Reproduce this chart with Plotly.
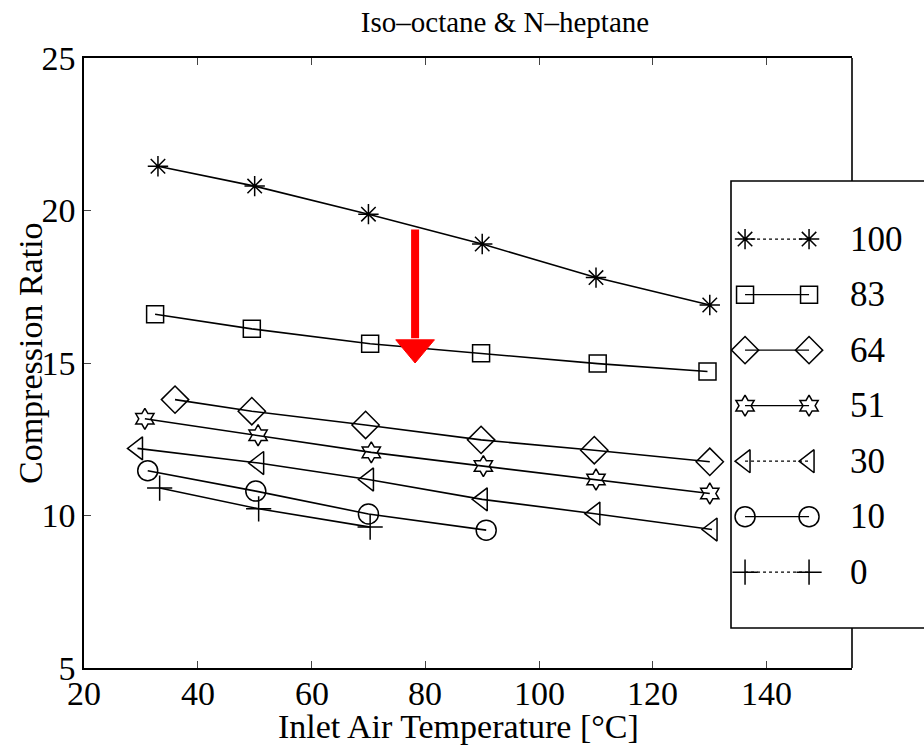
import plotly.graph_objects as go

# ---- data ----
series_names = ["100", "83", "64", "51", "30", "10", "0"]
x_100 = [33, 50, 70, 90, 110, 130]
y_100 = [21.45, 20.8, 19.88, 18.9, 17.8, 16.9]
x_83 = [32.5, 49.5, 70.3, 89.8, 110.3, 129.6]
y_83 = [16.6, 16.12, 15.63, 15.32, 14.98, 14.72]
x_64 = [36, 49.5, 69.5, 89.8, 109.7, 130]
y_64 = [13.8, 13.42, 12.97, 12.48, 12.14, 11.76]
x_51 = [30.7, 50.6, 70.5, 90.2, 110, 130]
y_51 = [13.17, 12.63, 12.07, 11.62, 11.18, 10.72]
x_30 = [29.4, 50.7, 70, 90, 109.8, 130.4]
y_30 = [12.2, 11.72, 11.18, 10.53, 10.06, 9.54]
x_10 = [31.2, 50.2, 70, 90.7]
y_10 = [11.47, 10.8, 10.05, 9.52]
x_0 = [33.3, 50.7, 70.3]
y_0 = [10.9, 10.22, 9.62]

xs = [x_100, x_83, x_64, x_51, x_30, x_10, x_0]
ys = [y_100, y_83, y_64, y_51, y_30, y_10, y_0]
symbols = ["asterisk-open", "square-open", "diamond-open", "hexagram-open",
           "triangle-left-open", "circle-open", "cross-thin-open"]
sizes = [17, 17, 21, 16, 20, 20, 18]

x_ticks = [20, 40, 60, 80, 100, 120, 140]
y_ticks = [5, 10, 15, 20, 25]

# arrow (annotation mark)
arrow_x = 78.2
arrow_top = 19.38
arrow_head_base = 15.76
arrow_tip = 15.0
arrow_half = 3.4

W, H = 924, 745
L, R, T, B = 84, 852, 58, 668  # plot area in px

FONT = "Liberation Serif"
fig = go.Figure()

for xv, yv, s, sz, nm in zip(xs, ys, symbols, sizes, series_names):
    fig.add_trace(go.Scatter(
        x=xv, y=yv, mode="lines+markers", name=nm, showlegend=False,
        line=dict(color="black", width=1.6),
        marker=dict(symbol=s, size=sz, color="black",
                    line=dict(color="black", width=1.5)),
    ))

# legend box rendered as a small subplot
box_x0 = (731 - L) / (R - L)
box_y0 = (B - 628) / (B - T)
box_y1 = (B - 181) / (B - T)
for i, (s, sz, nm) in enumerate(zip(symbols, sizes, series_names)):
    yy = 0.87 - i * 0.1242
    fig.add_trace(go.Scatter(
        x=[0.116, 0.645], y=[yy, yy], mode="lines+markers", showlegend=False,
        xaxis="x2", yaxis="y2",
        line=dict(color="black", width=1.2, dash="dot" if nm in ("100", "30", "0") else "solid"),
        marker=dict(symbol=s, size=sz, color="black",
                    line=dict(color="black", width=1.5)),
    ))
    fig.add_annotation(x=(848 - L) / (R - L), y=box_y0 + yy * (box_y1 - box_y0),
                       xref="paper", yref="paper", text=nm, showarrow=False,
                       xanchor="left", yanchor="middle",
                       font=dict(family=FONT, size=35, color="black"))

shapes = [
    # legend box
    dict(type="rect", xref="paper", yref="paper", x0=box_x0, x1=1.3,
         y0=box_y0, y1=box_y1, line=dict(color="black", width=1.6),
         fillcolor="white", layer="below"),
    # right border segments (outside legend box)
    dict(type="line", xref="paper", yref="paper", x0=1, x1=1, y0=box_y1, y1=1,
         line=dict(color="black", width=1.6)),
    dict(type="line", xref="paper", yref="paper", x0=1, x1=1, y0=0, y1=box_y0,
         line=dict(color="black", width=1.6)),
    # red arrow shaft
    dict(type="line", xref="x", yref="y", x0=arrow_x, x1=arrow_x,
         y0=arrow_top, y1=arrow_head_base + 0.05, line=dict(color="#ff0000", width=8), layer="above"),
    # red arrow head
    dict(type="path", xref="x", yref="y", layer="above",
         path=(f"M {arrow_x-arrow_half} {arrow_head_base} L {arrow_x+arrow_half} {arrow_head_base} "
               f"L {arrow_x} {arrow_tip} Z"),
         fillcolor="#ff0000", line=dict(color="#ff0000", width=1)),
]

fig.update_layout(
    width=W, height=H,
    margin=dict(l=L, r=W - R, t=T, b=H - B),
    paper_bgcolor="white", plot_bgcolor="rgba(0,0,0,0)",
    font=dict(family=FONT, size=35, color="black"),
    title=dict(text="Iso\u2013octane & N\u2013heptane", x=505 / W,
               xref="container", xanchor="center", y=1 - 22 / H, yref="container",
               yanchor="middle", font=dict(family=FONT, size=29, color="black")),
    xaxis=dict(range=[20, 155], tickvals=x_ticks, ticks="inside", ticklen=7,
               showline=True, linecolor="black", linewidth=1.6, mirror="ticks",
               showgrid=False, zeroline=False, showticklabels=False),
    yaxis=dict(range=[5, 25], tickvals=y_ticks, ticks="inside", ticklen=7,
               showline=True, linecolor="black", linewidth=1.6, mirror=False,
               showgrid=False, zeroline=False, tickfont=dict(size=34)),
    xaxis2=dict(domain=[box_x0, 1.0], range=[0, 1], visible=False, anchor="y2"),
    yaxis2=dict(domain=[box_y0, box_y1], range=[0, 1], visible=False, anchor="x2"),
    shapes=shapes,
    showlegend=False,
)

# x tick labels placed just under the axis
for v in x_ticks:
    fig.add_annotation(x=v, xref="x", y=-(693 - B) / (B - T), yref="paper",
                       text=str(v), showarrow=False, xanchor="center", yanchor="middle",
                       font=dict(family=FONT, size=34, color="black"))

fig.add_annotation(text="Inlet Air Temperature [\u00b0C]", xref="paper", yref="paper",
                   x=(458 - L) / (R - L), y=-(726 - B) / (B - T), showarrow=False,
                   xanchor="center", yanchor="middle",
                   font=dict(family=FONT, size=34, color="black"))
fig.add_annotation(text="Compression Ratio", xref="paper", yref="paper",
                   x=-(L - 30) / (R - L), y=(B - 353) / (B - T), showarrow=False,
                   textangle=-90, xanchor="center", yanchor="middle",
                   font=dict(family=FONT, size=34, color="black"))

fig.write_html("out.html")
